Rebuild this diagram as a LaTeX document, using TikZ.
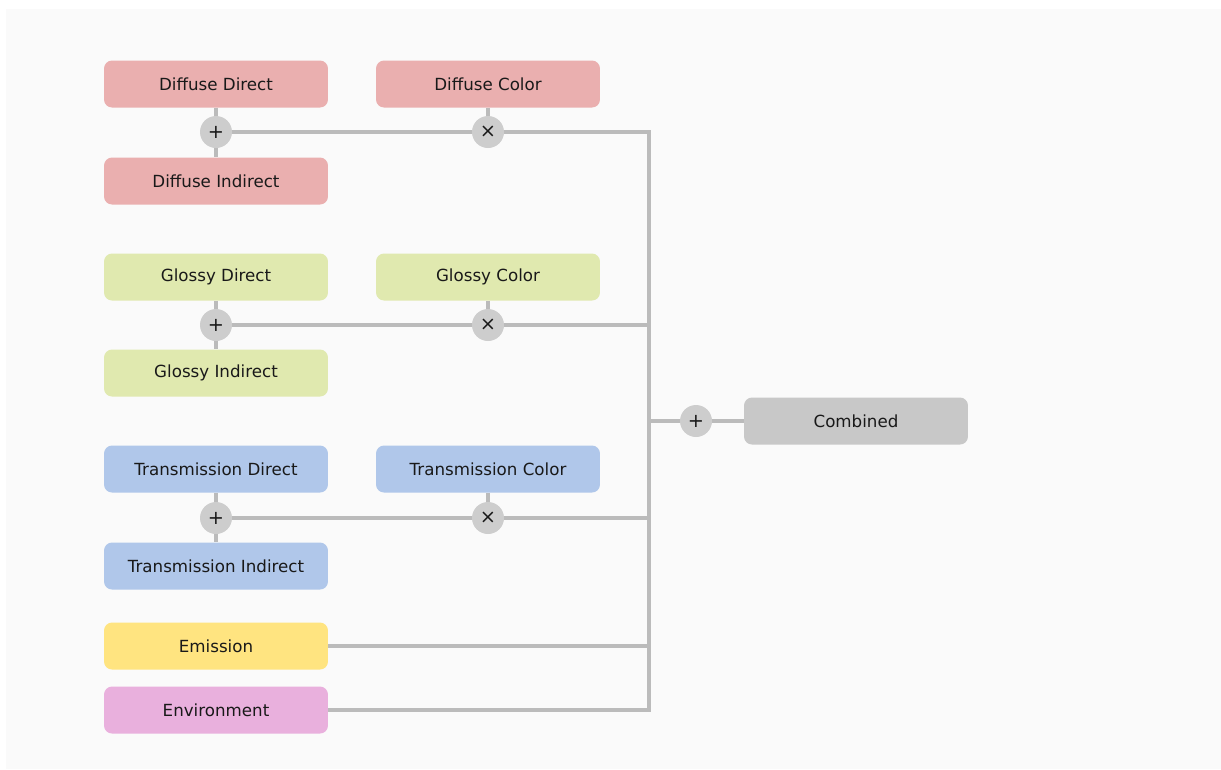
\documentclass[tikz,border=0pt]{standalone}
\usepackage{fontspec}
\setmainfont{DejaVu Sans}
\usepackage{tikz}
\usetikzlibrary{positioning}

\definecolor{bgpanel}{RGB}{250,250,250}
\definecolor{wire}{RGB}{187,187,187}
\definecolor{opfill}{RGB}{205,205,205}
\definecolor{diffc}{RGB}{234,175,175}
\definecolor{glosc}{RGB}{224,233,175}
\definecolor{tranc}{RGB}{176,199,234}
\definecolor{emisc}{RGB}{255,228,128}
\definecolor{envc}{RGB}{233,176,221}
\definecolor{combc}{RGB}{200,200,200}
\definecolor{labeltext}{RGB}{25,25,25}

\begin{document}
\begin{tikzpicture}[
  x=0.02cm, y=-0.02cm,
  every node/.style={font=\fontsize{9.5}{11}\selectfont,text=labeltext},
  pass/.style={rectangle,rounded corners=1.6mm,minimum width=4.48cm,
               minimum height=0.94cm,inner sep=0pt},
  diffuse/.style={pass,fill=diffc},
  glossy/.style={pass,fill=glosc},
  transm/.style={pass,fill=tranc},
  emit/.style={pass,fill=emisc},
  envir/.style={pass,fill=envc},
  combo/.style={pass,fill=combc},
  op/.style={circle,fill=opfill,minimum size=6.4mm,inner sep=0pt,
             font=\fontsize{11}{11}\selectfont},
  wireline/.style={draw=wire,line width=2pt}
]
\useasboundingbox (0,0) rectangle (1221,769);
\fill[bgpanel] (6,9) rectangle (1221,769);

% diffuse
\node[diffuse] (dd) at (216,84)  {Diffuse Direct};
\node[diffuse] (di) at (216,181) {Diffuse Indirect};
\node[diffuse] (dc) at (488,84)  {Diffuse Color};
\node[op] (dplus)  at (216,132) {+};
\node[op] (dtimes) at (488,132) {×};

% glossy
\node[glossy] (gd) at (216,277) {Glossy Direct};
\node[glossy] (gi) at (216,373) {Glossy Indirect};
\node[glossy] (gc) at (488,277) {Glossy Color};
\node[op] (gplus)  at (216,325) {+};
\node[op] (gtimes) at (488,325) {×};

% transmission
\node[transm] (td) at (216,469) {Transmission Direct};
\node[transm] (ti) at (216,566) {Transmission Indirect};
\node[transm] (tc) at (488,469) {Transmission Color};
\node[op] (tplus)  at (216,518) {+};
\node[op] (ttimes) at (488,518) {×};

\node[emit]  (em)  at (216,646) {Emission};
\node[envir] (env) at (216,710) {Environment};

\node[op]    (cplus) at (696,421) {+};
\node[combo] (comb)  at (856,421) {Combined};

% bus
\coordinate (busD) at (649,132);
\coordinate (busG) at (649,325);
\coordinate (busC) at (649,421);
\coordinate (busT) at (649,518);
\coordinate (busE) at (649,646);
\coordinate (busV) at (649,710);

\draw[wireline] (dd) -- (dplus) -- (di);
\draw[wireline] (dc) -- (dtimes);
\draw[wireline] (dplus) -- (dtimes);
\draw[wireline] (gd) -- (gplus) -- (gi);
\draw[wireline] (gc) -- (gtimes);
\draw[wireline] (gplus) -- (gtimes);
\draw[wireline] (td) -- (tplus) -- (ti);
\draw[wireline] (tc) -- (ttimes);
\draw[wireline] (tplus) -- (ttimes);

\draw[wireline] (dtimes) -- (busD) -- (busV) -- (env);
\draw[wireline] (gtimes) -- (busG);
\draw[wireline] (ttimes) -- (busT);
\draw[wireline] (em) -- (busE);
\draw[wireline] (busC) -- (cplus) -- (comb);
\end{tikzpicture}
\end{document}
